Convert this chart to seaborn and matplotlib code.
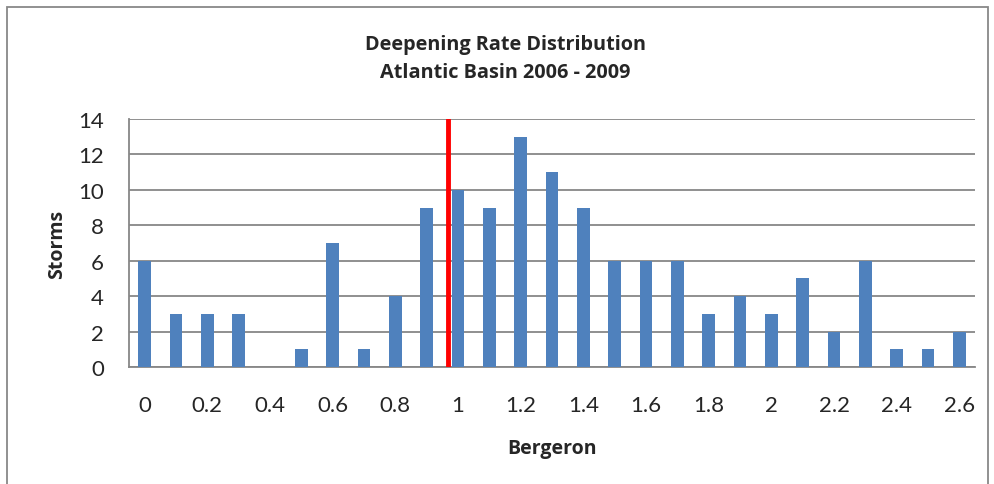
import matplotlib
matplotlib.use("Agg")
import pandas as pd
import seaborn as sns
import matplotlib.pyplot as plt
from matplotlib.patches import Rectangle

bergeron = ["0", "0.1", "0.2", "0.3", "0.4", "0.5", "0.6", "0.7", "0.8", "0.9",
            "1", "1.1", "1.2", "1.3", "1.4", "1.5", "1.6", "1.7", "1.8", "1.9",
            "2", "2.1", "2.2", "2.3", "2.4", "2.5", "2.6"]
storms = [6, 3, 3, 3, 0, 1, 7, 1, 4, 9,
          10, 9, 13, 11, 9, 6, 6, 6, 3, 4,
          3, 5, 2, 6, 1, 1, 2]
threshold_pos = 9.68  # red marker, just left of the 1.0 bar

df = pd.DataFrame({"Bergeron": bergeron, "Storms": storms})

sns.set_style("white")
plt.rcParams["font.family"] = ["Lato", "DejaVu Sans"]
bold_font = ["Open Sans", "DejaVu Sans"]

fig = plt.figure(figsize=(9.95, 4.85), dpi=100)
ax = fig.add_axes([0.1296, 0.2412, 0.8504, 0.5114])

sns.barplot(data=df, x="Bergeron", y="Storms", color="#4F81BD", width=0.4,
            saturation=1, linewidth=0, ax=ax, zorder=3)
ax.plot([threshold_pos, threshold_pos], [0, 14], color="#FF0000", lw=3.5, zorder=4)

ax.set_xlim(-0.5, len(bergeron) - 0.5)
ax.set_ylim(0, 14)
ax.set_yticks(range(0, 15, 2))
ax.set_yticklabels([str(v) for v in range(0, 15, 2)], fontsize=16)
ax.yaxis.grid(True, color="#878787", lw=1.3, zorder=0)
ax.tick_params(axis="y", length=7, color="#878787", width=1.3, pad=11)

ax.set_xticks(range(0, len(bergeron), 2))
ax.set_xticklabels(bergeron[::2], fontsize=16)
ax.set_xticks([i - 0.5 for i in range(len(bergeron) + 1)], minor=True)
ax.tick_params(axis="x", which="major", length=0, pad=20)
ax.tick_params(axis="x", which="minor", length=8, color="#878787", width=1.3)

for s in ["top", "right"]:
    ax.spines[s].set_visible(False)
for s in ["left", "bottom"]:
    ax.spines[s].set_color("#878787")
    ax.spines[s].set_linewidth(1.3)

ax.set_xlabel("Bergeron", fontsize=14, fontweight="bold", family=bold_font, labelpad=17)
ax.set_ylabel("Storms", fontsize=14, fontweight="bold", family=bold_font, labelpad=8)

fig.text(0.508, 0.907, "Deepening Rate Distribution", ha="center", va="center",
         fontsize=14.3, fontweight="bold", family=bold_font)
fig.text(0.508, 0.849, "Atlantic Basin 2006 - 2009", ha="center", va="center",
         fontsize=14.3, fontweight="bold", family=bold_font)

fig.patches.append(Rectangle((7 / 995, -0.05), 981 / 995, 1 - 8 / 485 + 0.05,
                             transform=fig.transFigure, fill=False,
                             edgecolor="#888888", lw=1.3))

fig.savefig("out.png", dpi=100)
